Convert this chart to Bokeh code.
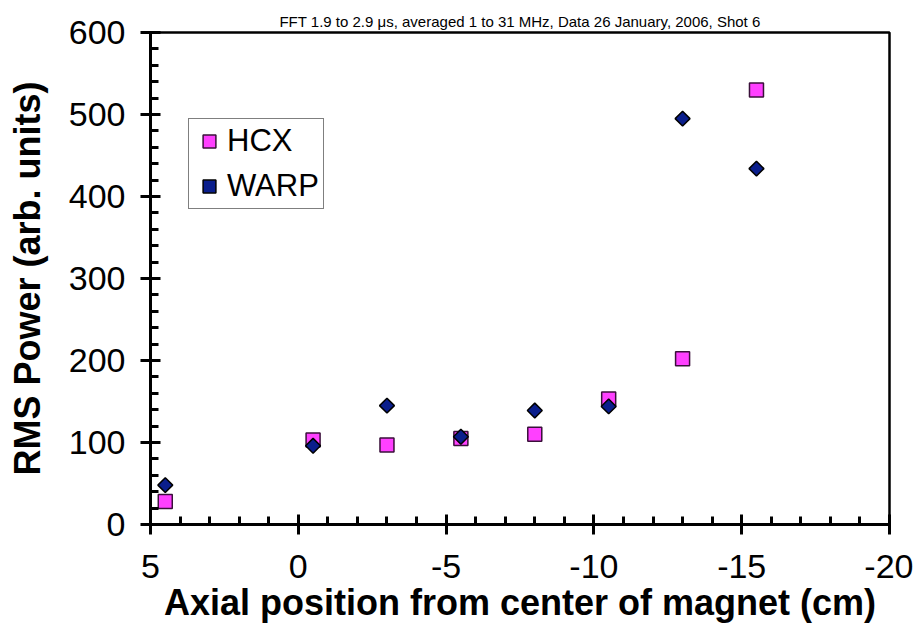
from bokeh.plotting import figure
from bokeh.models import Range1d, SingleIntervalTicker, Legend, LegendItem
from bokeh.embed import file_html
from bokeh.resources import INLINE
import math

# Data
positions = [4.5, -0.5, -3.0, -5.5, -8.0, -10.5, -13.0, -15.5]
hcx = [28, 103, 97, 105, 110, 153, 202, 530]
warp = [48, 96, 145, 107, 139, 144, 495, 434]

title_text = "FFT 1.9 to 2.9 \u03bcs, averaged 1 to 31 MHz, Data 26 January, 2006, Shot 6"
x_label = "Axial position from center of magnet (cm)"
y_label = "RMS Power (arb. units)"
x_ticks = [5, 0, -5, -10, -15, -20]
y_ticks = [0, 100, 200, 300, 400, 500, 600]

FONT = "Liberation Sans"

p = figure(width=913, height=620, output_backend="svg", toolbar_location=None,
           x_range=Range1d(5, -20), y_range=Range1d(0, 600),
           frame_width=739, frame_height=492,
           min_border_left=150, min_border_right=24, min_border_top=32, min_border_bottom=96,
           title=title_text)

p.title.align = "center"
p.title.text_font = FONT
p.title.text_font_size = "15px"
p.title.text_font_style = "normal"
p.title.text_color = "black"
p.title.standoff = 6

p.grid.visible = False
p.outline_line_color = "black"
p.outline_line_width = 2.5
p.background_fill_color = "white"
p.border_fill_color = "white"

for ax in (p.xaxis[0], p.yaxis[0]):
    ax.axis_line_width = 3
    ax.axis_line_color = "black"
    ax.major_tick_line_width = 3
    ax.minor_tick_line_width = 3
    ax.major_tick_in = 10
    ax.major_tick_out = 10
    ax.minor_tick_in = 8
    ax.minor_tick_out = 0
    ax.major_label_text_font = FONT
    ax.major_label_text_font_size = "34px"
    ax.major_label_text_color = "black"
    ax.axis_label_text_font = FONT
    ax.axis_label_text_font_size = "36px"
    ax.axis_label_text_font_style = "bold"
    ax.axis_label_text_color = "black"

p.xaxis.ticker = SingleIntervalTicker(interval=5, num_minor_ticks=5)
p.yaxis.ticker = SingleIntervalTicker(interval=100, num_minor_ticks=5)
p.xaxis.major_label_overrides = {t: ("%d" % t) for t in x_ticks}
p.yaxis.major_label_overrides = {t: ("%d" % t) for t in y_ticks}
p.xaxis.axis_label = x_label
p.yaxis.axis_label = y_label
p.xaxis.major_label_standoff = 20
p.yaxis.major_label_standoff = 15
p.xaxis.axis_label_standoff = 1
p.yaxis.axis_label_standoff = 18

r_hcx = p.scatter(positions, hcx, marker="square", size=14,
                  fill_color="#FF40FF", line_color="#3a103a", line_width=1.5)
r_warp = p.scatter(positions, warp, marker="square", size=10.5, angle=math.pi / 4,
                   fill_color="#0A1E8C", line_color="black", line_width=1.5)

legend = Legend(items=[LegendItem(label="HCX", renderers=[r_hcx]),
                       LegendItem(label="WARP", renderers=[r_warp])],
                location=(38, 315))
legend.border_line_color = "black"
legend.border_line_width = 1
legend.label_text_font = FONT
legend.label_text_font_size = "31px"
legend.label_text_color = "black"
legend.glyph_width = 32
legend.glyph_height = 32
legend.label_standoff = 2
legend.padding = 4
legend.spacing = 9
legend.margin = 0
p.add_layout(legend, "center")

open("out.html", "w").write(file_html(p, INLINE))
